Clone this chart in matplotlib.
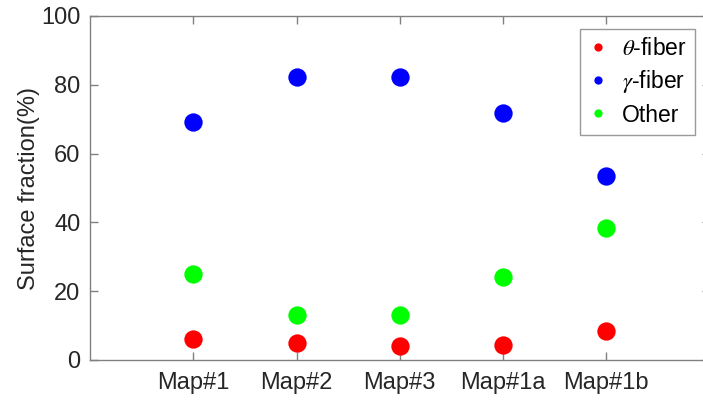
import matplotlib
matplotlib.use("Agg")
import matplotlib.pyplot as plt

categories = ["Map#1", "Map#2", "Map#3", "Map#1a", "Map#1b"]
theta_fiber = [6.1, 5.0, 4.1, 4.5, 8.4]
gamma_fiber = [69.2, 82.2, 82.2, 71.7, 53.6]
other = [25.0, 13.1, 13.1, 24.2, 38.3]
series_labels = [r"$\theta$-fiber", r"$\gamma$-fiber", "Other"]
series_colors = ["#ff0000", "#0000ff", "#00ff00"]
yticks = [0, 20, 40, 60, 80, 100]

plt.rcParams["font.family"] = ["Liberation Sans", "DejaVu Sans"]
plt.rcParams["mathtext.fontset"] = "stix"

fig = plt.figure(figsize=(7.03, 4.03), dpi=100)
ax = fig.add_axes([90/703, 43/403, (709.5-90)/703, 344/403])

xs = list(range(1, len(categories) + 1))
for vals, lab, col in zip([theta_fiber, gamma_fiber, other], series_labels, series_colors):
    ax.plot(xs, vals, linestyle="none", marker="o", markersize=13.2,
            color=col, markeredgewidth=0, label=lab)

ax.set_xlim(0, 6)
ax.set_ylim(0, 100)
ax.set_xticks(xs)
ax.set_xticklabels(categories)
ax.set_yticks(yticks)

spine_col = "#808080"
for s in ax.spines.values():
    s.set_color(spine_col)
    s.set_linewidth(1.0)
ax.tick_params(direction="in", length=6, width=1.0, color=spine_col,
               labelsize=17, labelcolor="#262626", top=True, right=True, pad=7)
ax.tick_params(axis="x", pad=9)
ax.set_ylabel("Surface fraction(%)", fontsize=17, color="#262626", labelpad=1)

leg = ax.legend(loc="upper right", bbox_to_anchor=(695/703, (403-29)/403),
                bbox_transform=fig.transFigure, borderaxespad=0,
                fontsize=16.5, markerscale=0.45, handlelength=0.9,
                handletextpad=0.6, labelspacing=0.36, borderpad=0.35,
                fancybox=False, framealpha=1)
leg.get_frame().set_edgecolor("#999999")
leg.get_frame().set_linewidth(1.0)
for t in leg.get_texts():
    t.set_color("black")

fig.savefig("out.png", dpi=100)
